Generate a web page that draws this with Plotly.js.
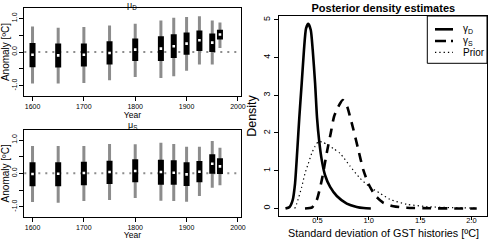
<!DOCTYPE html>
<html>
<head>
<meta charset="utf-8">
<script src="https://cdn.plot.ly/plotly-3.0.1.min.js"></script>
<style>html,body{margin:0;padding:0;background:#fff;}#chart{width:488px;height:240px;}</style>
</head>
<body>
<div id="chart"></div>
<script>
// ---- data ----
const years = [1600, 1650, 1700, 1750, 1800, 1850, 1875, 1900, 1925, 1950, 1965];

const muD_lo95 = [-0.94, -0.94, -0.92, -0.84, -0.74, -0.77, -0.72, -0.56, -0.37, -0.37, 0.12];
const muD_lo50 = [-0.45, -0.46, -0.43, -0.37, -0.27, -0.27, -0.18, -0.08, 0.03, 0.00, 0.37];
const muD_med  = [-0.08, -0.10, -0.08, -0.03, 0.07, 0.10, 0.17, 0.25, 0.35, 0.28, 0.52];
const muD_hi50 = [0.27, 0.25, 0.25, 0.32, 0.40, 0.47, 0.53, 0.58, 0.64, 0.55, 0.66];
const muD_hi95 = [0.76, 0.72, 0.74, 0.79, 0.84, 0.94, 1.02, 1.04, 1.06, 0.94, 0.88];

const muS_lo95 = [-0.86, -0.88, -0.83, -0.80, -0.74, -0.82, -0.83, -0.85, -0.68, -0.43, -0.36];
const muS_lo50 = [-0.39, -0.39, -0.36, -0.32, -0.27, -0.34, -0.34, -0.38, -0.27, -0.01, -0.02];
const muS_med  = [-0.02, -0.01, 0.01, 0.04, 0.07, 0.04, 0.02, -0.03, 0.05, 0.29, 0.21];
const muS_hi50 = [0.33, 0.33, 0.35, 0.38, 0.42, 0.41, 0.39, 0.33, 0.37, 0.57, 0.45];
const muS_hi95 = [0.82, 0.82, 0.82, 0.88, 0.87, 0.92, 0.88, 0.80, 0.80, 0.97, 0.77];

const gD_x = [0.19, 0.23, 0.26, 0.283, 0.305, 0.325, 0.348, 0.37, 0.39, 0.412, 0.436, 0.455, 0.478, 0.497, 0.517, 0.543, 0.575, 0.624, 0.689, 0.786, 0.883, 0.95, 1.02];
const gD_y = [0, 0.04, 0.22, 0.66, 1.55, 2.43, 3.32, 4.2, 4.77, 4.89, 4.73, 4.2, 3.32, 2.4, 1.81, 1.28, 0.88, 0.57, 0.33, 0.13, 0.04, 0.01, 0];

const gS_x = [0.38, 0.45, 0.494, 0.543, 0.597, 0.63, 0.662, 0.704, 0.747, 0.79, 0.818, 0.85, 0.899, 0.947, 0.996, 1.061, 1.142, 1.24, 1.37, 1.6, 1.85, 2.05];
const gS_y = [0, 0.03, 0.22, 0.75, 1.55, 1.99, 2.43, 2.7, 2.87, 2.7, 2.43, 2.1, 1.55, 1.02, 0.66, 0.35, 0.15, 0.06, 0.02, 0.005, 0, 0];

const pr_x = [0.28, 0.30, 0.348, 0.38, 0.412, 0.445, 0.478, 0.51, 0.55, 0.6, 0.66, 0.721, 0.818, 0.915, 1.01, 1.11, 1.207, 1.37, 1.564, 1.82, 2.05];
const pr_y = [0, 0.13, 0.57, 0.93, 1.19, 1.46, 1.65, 1.77, 1.76, 1.68, 1.58, 1.46, 1.12, 0.8, 0.57, 0.4, 0.24, 0.11, 0.05, 0.02, 0.01];

const leftYTicks = [-1, 0, 1];
const leftYText = ['-1.0', '0.0', '1.0'];
const yearTicks = [1600, 1700, 1800, 1900, 2000];
const sdTicks = [0.5, 1.0, 1.5, 2.0];
const sdTickText = ['0.5', '1.0', '1.5', '2.0'];
const densTicks = [0, 1, 2, 3, 4, 5];

// ---- build ----
const FONT = 'Liberation Sans, Arial, Helvetica, sans-serif';
const GRAY = '#8c8c8c';

function segs(xs, lo, hi) {
  const x = [], y = [];
  xs.forEach((v, i) => { x.push(v, v, null); y.push(lo[i], hi[i], null); });
  return { x, y };
}

function panel(lo95, lo50, med, hi50, hi95, xa, ya) {
  const g = segs(years, lo95, hi95);
  const b = segs(years, lo50, hi50);
  return [
    { type: 'scatter', mode: 'lines', x: g.x, y: g.y, xaxis: xa, yaxis: ya,
      line: { color: GRAY, width: 3 }, hoverinfo: 'skip', showlegend: false },
    { type: 'scatter', mode: 'lines', x: b.x, y: b.y, xaxis: xa, yaxis: ya,
      line: { color: '#000', width: 6 }, hoverinfo: 'skip', showlegend: false },
    { type: 'scatter', mode: 'markers', x: years, y: med, xaxis: xa, yaxis: ya,
      marker: { symbol: 'square', size: 2.6, color: '#fff', line: { width: 0 } },
      hoverinfo: 'skip', showlegend: false }
  ];
}

const traces = [].concat(
  panel(muD_lo95, muD_lo50, muD_med, muD_hi50, muD_hi95, 'x', 'y'),
  panel(muS_lo95, muS_lo50, muS_med, muS_hi50, muS_hi95, 'x2', 'y2'),
  [
    { type: 'scatter', mode: 'lines', x: gD_x, y: gD_y, xaxis: 'x3', yaxis: 'y3', name: 'γD',
      line: { color: '#000', width: 2.6, shape: 'spline', smoothing: 0.6 }, showlegend: false },
    { type: 'scatter', mode: 'lines', x: gS_x, y: gS_y, xaxis: 'x3', yaxis: 'y3', name: 'γS',
      line: { color: '#000', width: 2.6, dash: '9px,7px', shape: 'spline', smoothing: 0.6 }, showlegend: false },
    { type: 'scatter', mode: 'lines', x: pr_x, y: pr_y, xaxis: 'x3', yaxis: 'y3', name: 'Prior',
      line: { color: '#000', width: 1.2, dash: '1.3px,3px', shape: 'spline', smoothing: 0.6 }, showlegend: false }
  ]
);

const baseAxis = {
  showline: true, mirror: true, linecolor: '#000', linewidth: 1,
  ticks: 'outside', ticklen: 4, tickcolor: '#000', tickwidth: 1,
  showgrid: false, zeroline: false, automargin: false,
  tickfont: { family: FONT, size: 7, color: '#000' }
};

function ax(extra) { return Object.assign({}, baseAxis, extra); }

const minorHalf = { tick0: 0, dtick: 0.5, ticks: 'outside', ticklen: 4, tickcolor: '#000', tickwidth: 1, showgrid: false };

const xdomL = [24.3 / 488, 240.5 / 488];
const layout = {
  width: 488, height: 240,
  margin: { l: 0, r: 0, t: 0, b: 0 },
  paper_bgcolor: '#fff', plot_bgcolor: '#fff',
  showlegend: false,
  font: { family: FONT, color: '#000' },
  title: { text: '<b>Posterior density estimates</b>', font: { family: FONT, size: 11, color: '#000' },
           x: 383.3 / 488, xanchor: 'center', y: 1 - 8 / 240, yanchor: 'middle' },
  xaxis: ax({ domain: xdomL, anchor: 'y', range: [1584, 2005], tickvals: yearTicks,
              title: { text: 'Year', font: { family: FONT, size: 8.5 }, standoff: 2 } }),
  yaxis: ax({ domain: [1 - 95.7 / 240, 1 - 8.3 / 240], anchor: 'x', range: [-1.3, 1.3],
              tickvals: leftYTicks, ticktext: leftYText, tickangle: -90, minor: minorHalf,
              title: { text: 'Anomaly [ºC]', font: { family: FONT, size: 10 }, standoff: 3 } }),
  xaxis2: ax({ domain: xdomL, anchor: 'y2', range: [1584, 2005], tickvals: yearTicks,
               title: { text: 'Year', font: { family: FONT, size: 8.5 }, standoff: 2 } }),
  yaxis2: ax({ domain: [1 - 216.7 / 240, 1 - 130 / 240], anchor: 'x2', range: [-1.3, 1.3],
               tickvals: leftYTicks, ticktext: leftYText, tickangle: -90, minor: minorHalf,
               title: { text: 'Anomaly [ºC]', font: { family: FONT, size: 10 }, standoff: 3 } }),
  xaxis3: ax({ domain: [279 / 488, 487 / 488], anchor: 'y3', range: [0.127, 2.15], ticklen: 3,
               ticklabelstandoff: -6,
               tickvals: sdTicks, ticktext: sdTickText, tickfont: { family: FONT, size: 7.5, color: '#000' } }),
  yaxis3: ax({ domain: [1 - 216 / 240, 1 - 16 / 240], anchor: 'x3', range: [-0.2, 5.1],
               tickvals: densTicks, tickangle: -90, tickfont: { family: FONT, size: 9, color: '#000' },
               title: { text: 'Density', font: { family: FONT, size: 12.5 }, standoff: 3 } }),
  shapes: [
    { type: 'line', xref: 'x domain', yref: 'y', x0: 0, x1: 1, y0: 0, y1: 0, layer: 'below',
      line: { color: GRAY, width: 2, dash: '2px,5px' } },
    { type: 'line', xref: 'x2 domain', yref: 'y2', x0: 0, x1: 1, y0: 0, y1: 0, layer: 'below',
      line: { color: GRAY, width: 2, dash: '2px,5px' } },
    // legend box
    { type: 'rect', xref: 'paper', yref: 'paper', x0: 427.3 / 488, x1: 487 / 488,
      y0: 1 - 63.3 / 240, y1: 1 - 16 / 240, line: { color: '#000', width: 1 }, fillcolor: 'rgba(0,0,0,0)' },
    { type: 'line', xref: 'paper', yref: 'paper', x0: 435 / 488, x1: 453 / 488,
      y0: 1 - 29.3 / 240, y1: 1 - 29.3 / 240, line: { color: '#000', width: 2.6 } },
    { type: 'line', xref: 'paper', yref: 'paper', x0: 435 / 488, x1: 453 / 488,
      y0: 1 - 41 / 240, y1: 1 - 41 / 240, line: { color: '#000', width: 2.6, dash: '11px,5px' } },
    { type: 'line', xref: 'paper', yref: 'paper', x0: 435 / 488, x1: 453 / 488,
      y0: 1 - 52.3 / 240, y1: 1 - 52.3 / 240, line: { color: '#000', width: 1.2, dash: '1.3px,3px' } }
  ],
  annotations: [
    { text: 'Standard deviation of GST histories [ºC]', xref: 'paper', yref: 'paper',
      x: 383 / 488, y: 1 - 233 / 240, xanchor: 'center', yanchor: 'middle', showarrow: false,
      font: { family: FONT, size: 10.8, color: '#000' } },
    { text: 'μ<sub>D</sub>', xref: 'paper', yref: 'paper', x: 132 / 488, y: 1 - 5 / 240,
      xanchor: 'center', yanchor: 'middle', showarrow: false, font: { family: FONT, size: 9, color: '#000' } },
    { text: 'μ<sub>S</sub>', xref: 'paper', yref: 'paper', x: 132 / 488, y: 1 - 125.5 / 240,
      xanchor: 'center', yanchor: 'middle', showarrow: false, font: { family: FONT, size: 9, color: '#000' } },
    { text: 'γ<sub>D</sub>', xref: 'paper', yref: 'paper', x: 461 / 488, y: 1 - 29.3 / 240,
      xanchor: 'left', yanchor: 'middle', showarrow: false, font: { family: FONT, size: 10, color: '#000' } },
    { text: 'γ<sub>S</sub>', xref: 'paper', yref: 'paper', x: 461 / 488, y: 1 - 41 / 240,
      xanchor: 'left', yanchor: 'middle', showarrow: false, font: { family: FONT, size: 10, color: '#000' } },
    { text: 'Prior', xref: 'paper', yref: 'paper', x: 461 / 488, y: 1 - 52.3 / 240,
      xanchor: 'left', yanchor: 'middle', showarrow: false, font: { family: FONT, size: 10, color: '#000' } }
  ]
};

Plotly.newPlot('chart', traces, layout, { staticPlot: true, displayModeBar: false });
</script>
</body>
</html>
